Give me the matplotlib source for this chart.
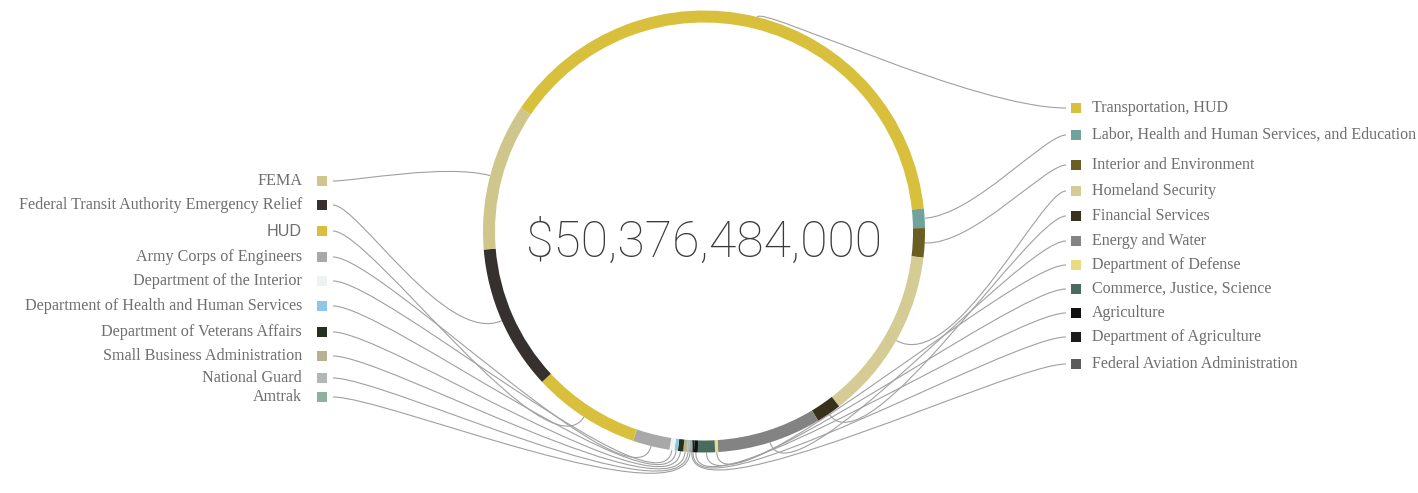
import numpy as np
import matplotlib.pyplot as plt
from matplotlib.path import Path
from matplotlib.patches import PathPatch

total_label = "$50,376,484,000"

# right-hand legend, top to bottom (= clockwise from the top of the ring), $ millions
right_names = ["Transportation, HUD", "Labor, Health and Human Services, and Education",
               "Interior and Environment", "Homeland Security", "Financial Services",
               "Energy and Water", "Department of Defense", "Commerce, Justice, Science",
               "Agriculture", "Department of Agriculture", "Federal Aviation Administration"]
right_values = [19591, 714, 1077, 6367, 924, 3834, 112, 630, 140, 56, 42]
right_colors = ["#d8c03c", "#6fa39b", "#6b5e22", "#d4cc94", "#38321c", "#838383",
                "#e8dc80", "#4a6c5e", "#121212", "#1b1b1b", "#5c5c5c"]

# left-hand legend, top to bottom
left_names = ["FEMA", "Federal Transit Authority Emergency Relief", "HUD",
              "Army Corps of Engineers", "Department of the Interior",
              "Department of Health and Human Services", "Department of Veterans Affairs",
              "Small Business Administration", "National Guard", "Amtrak"]
left_values = [5415, 5345, 3974, 1357, 182, 126, 196, 140, 70, 84]
left_colors = ["#cfc68c", "#36302e", "#d8c03c", "#a8a8a8", "#eef2f0", "#8ec6e6",
               "#26301c", "#b8b092", "#b3b6b6", "#8fb0a0"]

# layout (pixels, from the top of the picture)
W, H = 1418, 493
cx, cy, R = 704, H - 231.5, 221
right_y = [108, 135, 165, 191, 216, 241, 265, 289, 313, 337, 364]
left_y = [181, 205, 231, 257, 281, 306, 332, 356, 378, 397]

fig = plt.figure(figsize=(W / 100, H / 100), dpi=100)
ax = fig.add_axes([0, 0, 1, 1])

# ring: right items clockwise from the top, then the left items from the bottom up
values = right_values + left_values[::-1]
colors = right_colors + left_colors[::-1]
wedges, _ = ax.pie(values, colors=colors, startangle=146, counterclock=False,
                   radius=R, center=(cx, cy), frame=True,
                   wedgeprops=dict(width=12, linewidth=0))
for w in wedges:
    w.set_zorder(3)

ax.set_xlim(0, W)
ax.set_ylim(0, H)
ax.set_aspect('equal')
ax.axis('off')

n_right = len(right_names)
anchors = [(1066, H - y) for y in right_y] + [(333, H - y) for y in left_y[::-1]]

# connectors: short horizontal start at the legend square, radial into the ring
for w, (lx, ly) in zip(wedges, anchors):
    th = np.deg2rad((w.theta1 + w.theta2) / 2)
    u = np.array([np.cos(th), np.sin(th)])
    p3 = np.array([cx, cy]) + u * R
    dist = np.hypot(p3[0] - lx, p3[1] - ly)
    d2 = 12 if u[1] > 0.5 else min(0.3 * dist, 70)
    p2 = p3 + u * d2
    dx = abs(p3[0] - lx)
    side = -1 if lx > cx else 1
    k = 0.3 if u[1] > 0.5 else 0.15
    p1 = (lx + side * k * dx, ly)
    path = Path([(lx, ly), p1, tuple(p2), tuple(p3)],
                [Path.MOVETO, Path.CURVE4, Path.CURVE4, Path.CURVE4])
    ax.add_patch(PathPatch(path, fill=False, edgecolor="#a0a0a0", lw=0.8, zorder=1))

serif = "Liberation Serif"
txt_color = "#6e6e6e"

ax.scatter([1076] * n_right, [H - y for y in right_y], marker='s', s=58,
           c=right_colors, linewidths=0, zorder=4)
for name, y in zip(right_names, right_y):
    ax.text(1092, H - y, name, ha='left', va='center', fontsize=11.5,
            family=serif, color=txt_color)

ax.scatter([322] * len(left_names), [H - y for y in left_y], marker='s', s=58,
           c=left_colors, linewidths=0, zorder=4)
for name, y in zip(left_names, left_y):
    fam = "Liberation Sans" if name == "HUD" else serif
    ax.text(302, H - y, name, ha='right', va='center', fontsize=11.6,
            family=fam, color=txt_color)

ax.text(cx, H - 243, total_label, ha='center', va='center', fontsize=36,
        family="Roboto", fontweight='light', color="#3a3a3a")

fig.savefig("out.png", dpi=100, facecolor='white')
